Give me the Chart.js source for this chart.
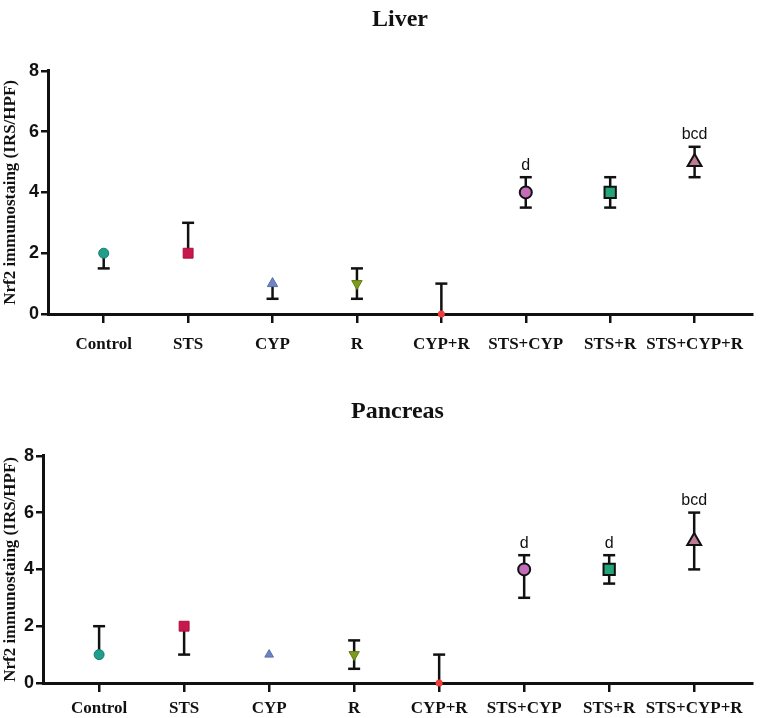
<!DOCTYPE html>
<html>
<head>
<meta charset="utf-8">
<script src="https://cdn.jsdelivr.net/npm/chart.js@4.4.0/dist/chart.umd.min.js"></script>
<style>
html,body{margin:0;padding:0;background:#fff;}
canvas{display:block;}
</style>
</head>
<body>
<canvas id="liver" width="762" height="360"></canvas>
<canvas id="pancreas" width="762" height="358"></canvas>
<script>
const categories = ["Control","STS","CYP","R","CYP+R","STS+CYP","STS+R","STS+CYP+R"];
const yTicks = [0,2,4,6,8];
const yTitle = "Nrf2 immunostaing (IRS/HPF)";

const liverTitle = "Liver";
const liverMean = [2, 2, 1, 1, 0, 4, 4, 5];
const liverLow  = [1.5, 2, 0.5, 0.5, 0, 3.5, 3.5, 4.5];
const liverHigh = [2, 3, 1, 1.5, 1, 4.5, 4.5, 5.5];
const liverNotes = ["", "", "", "", "", "d", "", "bcd"];

const pancreasTitle = "Pancreas";
const pancreasMean = [1, 2, 1, 1, 0, 4, 4, 5];
const pancreasLow  = [1, 1, 1, 0.5, 0, 3, 3.5, 4];
const pancreasHigh = [2, 2, 1, 1.5, 1, 4.5, 4.5, 6];
const pancreasNotes = ["", "", "", "", "", "d", "d", "bcd"];

const markerStyles = ["circle","rect","triangle","triangle","circle","circle","rect","triangle"];
const markerRotation = [0,0,0,180,0,0,0,0];
const markerFill = ["#1f9e8b","#c8174c","#6f84c2","#7c9c1c","#f23c3c","#c46cba","#22a57a","#bd7a94"];
const markerBorder = ["#157a6b","#a8103c","#5a6ea8","#5f7c10","#f23c3c","#111111","#111111","#111111"];

function makeErrorPlugin(low, high, notes) {
  return {
    id: 'errbars',
    beforeDatasetsDraw(chart) {
      const ctx = chart.ctx, xs = chart.scales.x, ys = chart.scales.y;
      ctx.save();
      ctx.strokeStyle = '#111';
      ctx.lineWidth = 2.5;
      ctx.lineCap = 'butt';
      const cap = 6;
      categories.forEach((c, i) => {
        const x = xs.getPixelForValue(i);
        const yl = ys.getPixelForValue(low[i]);
        const yh = ys.getPixelForValue(high[i]);
        if (Math.abs(yl - yh) > 0.5) {
          ctx.beginPath();
          ctx.moveTo(x, yl); ctx.lineTo(x, yh);
          ctx.stroke();
        }
        const m = chart.data.datasets[0].data[i].y;
        if (low[i] < m) { ctx.beginPath(); ctx.moveTo(x - cap, yl); ctx.lineTo(x + cap, yl); ctx.stroke(); }
        if (high[i] > m) { ctx.beginPath(); ctx.moveTo(x - cap, yh); ctx.lineTo(x + cap, yh); ctx.stroke(); }
      });
      ctx.restore();
    },
    afterDatasetsDraw(chart) {
      const ctx = chart.ctx, xs = chart.scales.x, ys = chart.scales.y;
      ctx.save();
      ctx.fillStyle = '#111';
      ctx.font = '16px "Liberation Sans", Arial, sans-serif';
      ctx.textAlign = 'center';
      ctx.textBaseline = 'bottom';
      notes.forEach((t, i) => {
        if (!t) return;
        ctx.fillText(t, xs.getPixelForValue(i), ys.getPixelForValue(high[i]) - 4);
      });
      ctx.restore();
    }
  };
}

function buildChart(id, title, mean, low, high, notes, cfg) {
  const radii = cfg.radii;
  return new Chart(document.getElementById(id), {
    type: 'scatter',
    data: {
      datasets: [{
        data: mean.map((v, i) => ({x: i, y: v})),
        pointStyle: markerStyles,
        rotation: markerRotation,
        backgroundColor: markerFill,
        borderColor: markerBorder,
        borderWidth: [1,1,1,1,0,2,2,2],
        pointRadius: radii,
        pointHoverRadius: radii,
        showLine: false,
        clip: false
      }]
    },
    options: {
      responsive: false,
      animation: false,
      events: [],
      layout: { padding: { left: 0, right: cfg.right, top: 0, bottom: 0 } },
      plugins: {
        legend: { display: false },
        tooltip: { enabled: false },
        title: {
          display: true, text: title, fullSize: false,
          color: '#111',
          font: { family: '"Liberation Serif", "Times New Roman", serif', size: 24, weight: 'bold', lineHeight: 1.2 },
          padding: { top: cfg.titleTop, bottom: cfg.titleBottom }
        }
      },
      scales: {
        x: {
          type: 'linear',
          min: -0.66, max: 7.68,
          afterBuildTicks: s => { s.ticks = categories.map((c, i) => ({value: i})); },
          afterFit: s => { s.height = cfg.xHeight; },
          border: { display: true, color: '#111', width: 3 },
          grid: { display: true, drawOnChartArea: false, drawTicks: true, tickLength: 9, color: '#111', lineWidth: 2.5 },
          ticks: {
            autoSkip: false, maxRotation: 0, padding: cfg.xPad, color: '#111',
            font: { family: '"Liberation Serif", "Times New Roman", serif', size: 17, weight: 'bold' },
            callback: v => categories[v]
          }
        },
        y: {
          min: 0, max: 8,
          afterBuildTicks: s => { s.ticks = yTicks.map(v => ({value: v})); },
          afterFit: s => { s.width = cfg.yWidth; },
          border: { display: true, color: '#111', width: 3 },
          grid: { display: true, drawOnChartArea: false, drawTicks: true, tickLength: 7, color: '#111', lineWidth: 2.5 },
          ticks: {
            padding: 2, color: '#111',
            font: { family: '"Liberation Sans", Arial, sans-serif', size: 18, weight: 'bold' }
          },
          title: {
            display: true, text: yTitle, color: '#111', padding: { top: 0, bottom: 0 },
            font: { family: '"Liberation Serif", "Times New Roman", serif', size: 17, weight: 'bold' }
          }
        }
      }
    },
    plugins: [makeErrorPlugin(low, high, notes)]
  });
}

buildChart('liver', liverTitle, liverMean, liverLow, liverHigh, liverNotes,
  { right: 7, titleTop: 5, titleBottom: 37, xHeight: 46, xPad: 11, yWidth: 48, radii: [5,7,6,6,3.5,6,8,8] });
buildChart('pancreas', pancreasTitle, pancreasMean, pancreasLow, pancreasHigh, pancreasNotes,
  { right: 9, titleTop: 37, titleBottom: 30, xHeight: 35, xPad: 6, yWidth: 43, radii: [5,7,5,6,3.5,6,8,8] });
</script>
</body>
</html>
